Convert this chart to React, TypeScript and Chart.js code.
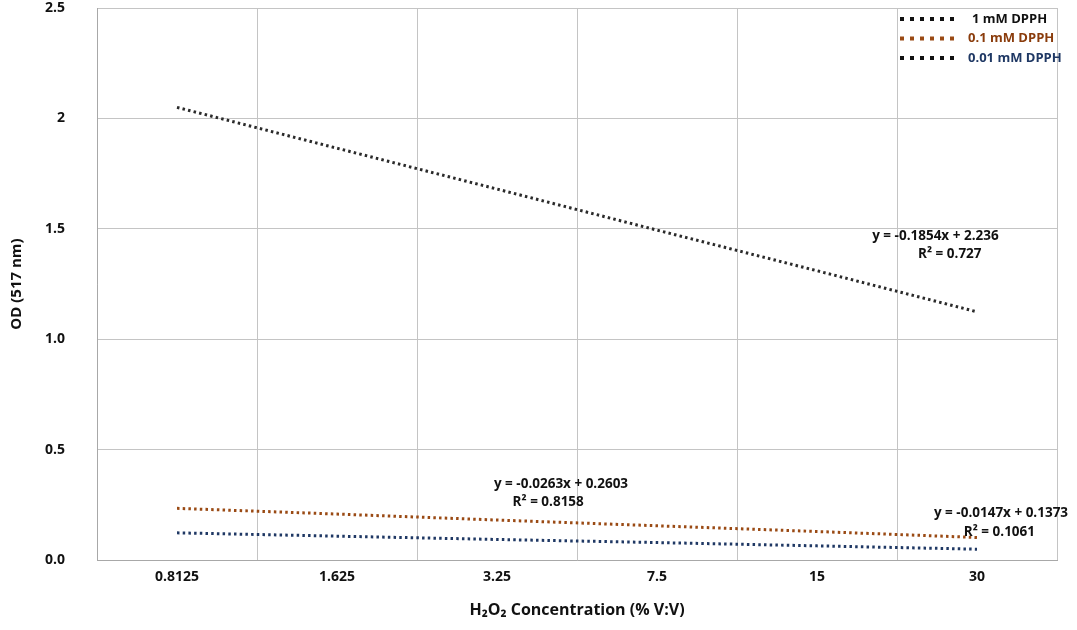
import React, { useEffect, useRef } from "react";
import { Chart, registerables } from "chart.js";

Chart.register(...registerables);

const categories = ["0.8125", "1.625", "3.25", "7.5", "15", "30"];
const seriesNames = ["1 mM DPPH", "0.1 mM DPPH", "0.01 mM DPPH"];
const dpph1mM = [2.05, 1.865, 1.68, 1.494, 1.31, 1.124];
const dpph01mM = [0.234, 0.208, 0.181, 0.155, 0.129, 0.102];
const dpph001mM = [0.123, 0.108, 0.093, 0.079, 0.064, 0.049];
const yTickLabels = ["0.0", "0.5", "1.0", "1.5", "2", "2.5"];
const equationTexts = [
  "y = -0.1854x + 2.236",
  "R² = 0.727",
  "y = -0.0263x + 0.2603",
  "R² = 0.8158",
  "y = -0.0147x + 0.1373",
  "R² = 0.1061",
];

const FONT = '"Open Sans", sans-serif';
const lineColors = ["#2a2a2a", "#9a4a14", "#1f3864"];
const legendMarkerColors = ["#111111", "#9a4a14", "#111111"];
const legendTextColors = ["#111111", "#8a3c0c", "#1f3864"];
// annotation anchors in data space (category index, value)
const equationAnchors = [
  [4.74, 1.467],
  [4.83, 1.386],
  [2.4, 0.344],
  [2.32, 0.263],
  [5.15, 0.213],
  [5.14, 0.127],
];

const overlayPlugin = {
  id: "overlay",
  afterDatasetsDraw(chart: any) {
    const ctx = chart.ctx;
    const xs = chart.scales.x;
    const ys = chart.scales.y;
    ctx.save();
    ctx.font = `bold 13.5px ${FONT}`;
    ctx.fillStyle = "#111";
    ctx.textAlign = "center";
    ctx.textBaseline = "middle";
    equationTexts.forEach((t, i) => {
      const [cx, cy] = equationAnchors[i];
      ctx.fillText(t, xs.getPixelForValue(cx), ys.getPixelForValue(cy));
    });
    // legend
    const lx = 900;
    const ly0 = 19;
    ctx.font = `bold 13px ${FONT}`;
    ctx.textAlign = "left";
    seriesNames.forEach((name, i) => {
      const y = ly0 + i * 19.5;
      ctx.beginPath();
      ctx.setLineDash([4, 6]);
      ctx.lineWidth = 4;
      ctx.strokeStyle = legendMarkerColors[i];
      ctx.moveTo(lx, y);
      ctx.lineTo(lx + 60, y);
      ctx.stroke();
      ctx.setLineDash([]);
      ctx.fillStyle = legendTextColors[i];
      ctx.fillText(name, i === 0 ? 972 : 968, y);
    });
    ctx.restore();
  },
};

export default function App() {
  const ref = useRef<HTMLCanvasElement>(null);
  useEffect(() => {
    if (!ref.current) return;
    const mk = (label: string, data: number[], color: string) => ({
      label,
      data,
      borderColor: color,
      backgroundColor: color,
      borderWidth: 3,
      borderDash: [2.5, 3.2],
      borderCapStyle: "butt" as const,
      pointRadius: 0,
      fill: false,
      tension: 0,
    });
    const chart = new Chart(ref.current, {
      type: "line",
      data: {
        labels: categories,
        datasets: [
          mk(seriesNames[0], dpph1mM, lineColors[0]),
          mk(seriesNames[1], dpph01mM, lineColors[1]),
          mk(seriesNames[2], dpph001mM, lineColors[2]),
        ],
      },
      options: {
        animation: false,
        responsive: false,
        layout: { padding: { top: 8, right: 20, left: 0, bottom: 0 } },
        plugins: { legend: { display: false }, tooltip: { enabled: false } },
        scales: {
          x: {
            type: "category",
            offset: true,
            grid: { offset: true, color: "#c4c4c4", lineWidth: 1, drawTicks: false },
            border: { color: "#a8a8a8", width: 1 },
            ticks: {
              color: "#111",
              font: { family: FONT, size: 14, weight: "bold" },
              padding: 9,
            },
            title: {
              display: true,
              text: "H₂O₂ Concentration (% V:V)",
              color: "#111",
              font: { family: FONT, size: 16, weight: "bold" },
              padding: { top: 2, bottom: 10 },
            },
            afterFit: (s: any) => {
              s.height = 70;
            },
          },
          y: {
            min: 0,
            max: 2.5,
            ticks: {
              stepSize: 0.5,
              color: "#111",
              font: { family: FONT, size: 14, weight: "bold" },
              padding: 32,
              callback: (_v: any, i: number) => yTickLabels[i],
            },
            grid: { color: "#c4c4c4", lineWidth: 1, drawTicks: false },
            border: { color: "#a8a8a8", width: 1 },
            title: {
              display: true,
              text: "OD (517 nm)",
              color: "#111",
              font: { family: FONT, size: 15, weight: "bold" },
              padding: { top: 8, bottom: 0 },
            },
            afterFit: (s: any) => {
              s.width = 97;
              s.paddingTop = 0;
              s.paddingBottom = 0;
            },
          },
        },
      },
      plugins: [overlayPlugin],
    });
    return () => chart.destroy();
  }, []);
  return (
    <div style={{ position: "absolute", left: 0, top: 0, width: 1077, height: 630, background: "#fff" }}>
      <canvas ref={ref} width={1077} height={630} />
    </div>
  );
}
